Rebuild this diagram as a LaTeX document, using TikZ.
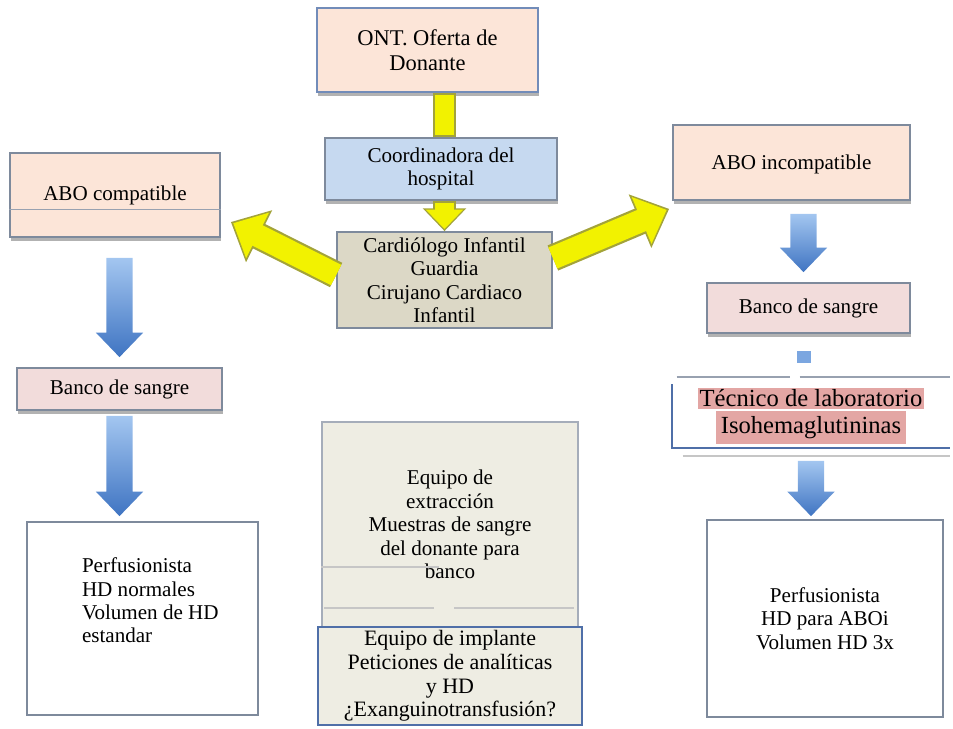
\documentclass[tikz,border=0pt]{standalone}
\usepackage{fontspec}
\setmainfont{Liberation Serif}
\usetikzlibrary{arrows.meta,shadows,calc}

\definecolor{melocoton}{HTML}{FCE5D8}
\definecolor{celeste}{HTML}{C6D9F0}
\definecolor{pardo}{HTML}{DCD8C6}
\definecolor{rosado}{HTML}{F2DCDB}
\definecolor{crema}{HTML}{EEEDE3}
\definecolor{salmon}{HTML}{E3A6A4}
\definecolor{borde}{HTML}{7E8A9C}
\definecolor{azulborde}{HTML}{4F6FA8}
\definecolor{amarillo}{HTML}{F2F200}
\definecolor{oliva}{HTML}{A3A33A}
\definecolor{azulclaro}{HTML}{A3C6F0}
\definecolor{azuloscuro}{HTML}{3F74C2}
\definecolor{azulmedio}{HTML}{7BA6E0}

\tikzset{
  caja/.style={rectangle, draw=borde, line width=1pt, align=center,
    font=\fontsize{12}{13.3}\selectfont, inner sep=2pt},
  sombra/.style={drop shadow={shadow xshift=0.5pt, shadow yshift=-2.5pt,
    fill=gray!75, opacity=.8}},
  texto/.style={font=\fontsize{12}{13.3}\selectfont, inner sep=2pt},
  fino/.style={draw=borde!80, line width=.8pt},
  tenue/.style={draw=gray!45, line width=1pt},
  amarillaF/.style={draw=oliva, line width=15.5pt, -{Triangle[width=32pt,length=18pt]}},
  amarillaD/.style={draw=amarillo, line width=13pt, -{Triangle[width=28pt,length=15.5pt]}, shorten >=1.5pt},
  barraF/.style={draw=oliva, line width=13pt},
  barraD/.style={draw=amarillo, line width=11pt},
  puntaF/.style={draw=oliva, line width=13pt, -{Triangle[width=24pt,length=13pt]}},
  puntaD/.style={draw=amarillo, line width=11pt, -{Triangle[width=20.5pt,length=11pt]}, shorten >=1.2pt}
}

% flecha azul de bloque, de arriba abajo
\newcommand{\flechaazul}[2]{%
  \shade[top color=azulclaro, bottom color=azuloscuro]
    let \p1=(#1), \p2=(#2) in
    (\x1-7.5pt,\y1) -- (\x1+7.5pt,\y1) -- (\x1+7.5pt,\y2+14pt) -- (\x1+13.5pt,\y2+14pt)
    -- (\x1,\y2) -- (\x1-13.5pt,\y2+14pt) -- (\x1-7.5pt,\y2+14pt) -- cycle;}

\begin{document}
\begin{tikzpicture}[x=0.02cm, y=-0.02cm]
  \useasboundingbox (0,0) rectangle (953,729);

  % centro
  \node[caja, sombra, fill=melocoton, draw=azulborde!80, minimum width=4.42cm, minimum height=1.68cm, font=\fontsize{12.8}{14}\selectfont] (ont) at (427.5,50) {ONT. Oferta de\\Donante};
  \node[caja, sombra, fill=celeste, minimum width=4.64cm, minimum height=1.24cm] (coord) at (441,169) {Coordinadora del\\hospital};
  \node[caja, fill=pardo, minimum width=4.3cm, minimum height=1.92cm] (cardio) at (444.5,280) {Cardiólogo Infantil\\Guardia\\Cirujano Cardiaco\\Infantil};

  % izquierda
  \node[caja, sombra, fill=melocoton, minimum width=4.2cm, minimum height=1.68cm] (abocomp) at (115,195) {ABO compatible};
  \node[caja, sombra, fill=rosado, minimum width=4.1cm, minimum height=.84cm] (bancoizq) at (119.5,389) {Banco de sangre};
  \node[caja, fill=white, minimum width=4.62cm, minimum height=3.86cm] (perfizq) at (142.5,618.5) {};
  \node[texto, align=left, anchor=north west] (perfizqtexto) at ($(perfizq.north west)+(52,33)$) {Perfusionista\\HD normales\\Volumen de HD\\estandar};

  % derecha
  \node[caja, sombra, fill=melocoton, minimum width=4.74cm, minimum height=1.5cm, text depth=-4pt] (aboinc) at (791.5,162.5) {ABO incompatible};
  \node[caja, sombra, fill=rosado, minimum width=4.06cm, minimum height=1cm] (bancoder) at (808.5,308) {Banco de sangre};
  \node[texto, align=center, minimum width=5.56cm, minimum height=1.24cm, font=\fontsize{14}{15.2}\selectfont] (tecnico) at (811,416)
    {\setlength{\fboxsep}{1pt}\colorbox{salmon}{Técnico de laboratorio}\\\colorbox{salmon}{Isohemaglutininas}};
  \node[caja, fill=white, minimum width=4.72cm, minimum height=3.94cm] (perfder) at (825,618.5) {Perfusionista\\HD para ABOi\\Volumen HD 3x};

  % equipos
  \node[caja, fill=crema, draw=borde!70, minimum width=5.12cm, minimum height=4.1cm] (extraccion) at (450,524.5) {Equipo de\\extracción\\Muestras de sangre\\del donante para\\banco};
  \node[caja, fill=crema, draw=azulborde, line width=1.5pt, minimum width=5.28cm, minimum height=1.96cm, font=\fontsize{12.5}{13.5}\selectfont] (implante) at (450,676) {Equipo de implante\\Peticiones de analíticas\\y HD\\¿Exanguinotransfusión?};

  % rayas sueltas
  \draw[tenue] ($(extraccion.west)+(0,42.5)$) -- ++(118,0);
  \draw[tenue] ($(extraccion.west)+(3,83.5)$) -- ++(110,0);
  \draw[tenue] ($(extraccion.west)+(133,83.5)$) -- ++(120,0);
  \draw[fino] ($(tecnico.north west)+(5,-7)$) -- ($(tecnico.north west)+(118,-7)$);
  \draw[fino] ($(tecnico.north west)+(128,-7)$) -- ($(tecnico.north east)+(0,-7)$);
  \draw[azulborde, line width=1.2pt] (tecnico.north west) -- (tecnico.south west) -- (tecnico.south east);
  \draw[tenue] ($(tecnico.south west)+(11,8)$) -- ($(tecnico.south east)+(0,8)$);
  \draw[fino] ($(abocomp.west)+(0,14.5)$) -- ($(abocomp.east)+(0,14.5)$);

  % flechas amarillas
  \draw[barraF] (ont.south -| cardio.north) -- (coord.north -| cardio.north);
  \draw[barraD] ([yshift=-1pt]ont.south -| cardio.north) -- ([yshift=1pt]coord.north -| cardio.north);
  \draw[puntaF] (coord.south -| cardio.north) -- (cardio.north);
  \draw[puntaD] ([yshift=-1pt]coord.south -| cardio.north) -- (cardio.north);
  \draw[amarillaF] ($(cardio.west)+(0,-5)$) -- ($(abocomp.east)+(10,27)$);
  \draw[amarillaD] ($(cardio.west)+(0,-5)$) -- ($(abocomp.east)+(10,27)$);
  \draw[amarillaF] ($(cardio.east)+(0,-22)$) -- ($(aboinc.south west)+(-3,8)$);
  \draw[amarillaD] ($(cardio.east)+(0,-22)$) -- ($(aboinc.south west)+(-3,8)$);

  % flechas azules
  \flechaazul{$(abocomp.south -| bancoizq.north)+(0,20)$}{$(bancoizq.north)+(0,-10)$}
  \flechaazul{$(bancoizq.south)+(0,5)$}{$(bancoizq.south |- perfizq.north)+(0,-5)$}
  \flechaazul{$(aboinc.south -| bancoder.north)+(-5,13)$}{$(bancoder.north)+(-5,-10)$}
  \flechaazul{$(tecnico.south)+(0,13)$}{$(tecnico.south |- perfder.north)+(0,-3)$}
  \fill[azulmedio] ($(bancoder.south)+(-12,17)$) rectangle ($(bancoder.south)+(2,29)$);
\end{tikzpicture}
\end{document}
